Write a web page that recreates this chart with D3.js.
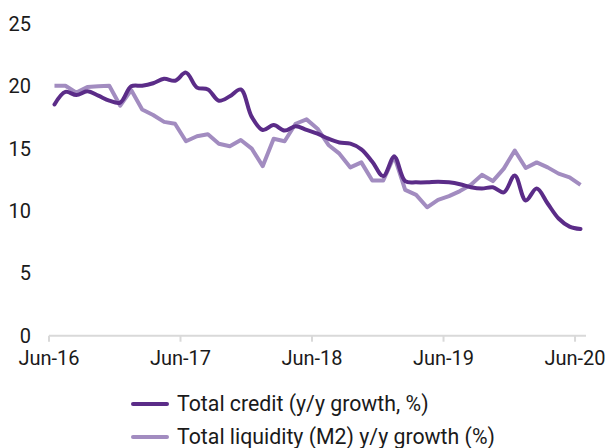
<!DOCTYPE html>
<html>
<head>
<meta charset="utf-8">
<script src="https://cdn.jsdelivr.net/npm/d3@7"></script>
<style>
  html, body { margin: 0; padding: 0; background: #fff; }
  svg { display: block; font-family: Roboto, "Noto Sans", sans-serif; }
</style>
</head>
<body>
<svg id="chart" width="605" height="448"></svg>
<script>
// Monthly observations, Jun-16 .. Jun-20
const months = d3.range(49).map(i => d3.timeMonth.offset(new Date(2016, 5, 1), i));

const creditGrowth = [
  18.55, 19.55, 19.3, 19.6, 19.25, 18.85, 18.7, 20.0, 20.05, 20.25, 20.6, 20.45,
  21.1, 19.9, 19.75, 18.85, 19.2, 19.75, 17.55, 16.5, 16.9, 16.45, 16.8, 16.5,
  16.2, 15.8, 15.5, 15.4, 14.95, 13.95, 12.8, 14.35, 12.4, 12.3, 12.3, 12.35,
  12.3, 12.15, 11.9, 11.8, 11.9, 11.5, 12.85, 10.85, 11.8, 10.6, 9.4, 8.75, 8.55
];

const liquidityGrowth = [
  20.05, 20.05, 19.5, 19.95, 20.0, 20.05, 18.45, 19.7, 18.15, 17.7, 17.15, 17.0,
  15.6, 16.0, 16.15, 15.4, 15.2, 15.7, 15.0, 13.6, 15.8, 15.6, 17.0, 17.35,
  16.6, 15.3, 14.6, 13.5, 13.9, 12.45, 12.45, 14.4, 11.7, 11.3, 10.3, 10.9,
  11.2, 11.6, 12.1, 12.9, 12.4, 13.4, 14.85, 13.45, 13.9, 13.5, 13.0, 12.7, 12.1
];

const yTicks = [0, 5, 10, 15, 20, 25];
const xTickLabels = ["Jun-16", "Jun-17", "Jun-18", "Jun-19", "Jun-20"];

const seriesNames = ["Total credit (y/y growth, %)", "Total liquidity (M2) y/y growth (%)"];
const seriesColors = ["#5b2c88", "#a28cc0"];

const svg = d3.select("#chart");

const plotLeft = 49, plotRight = 586, plotTop = 24, plotBottom = 335.7;

// Category-style time axis: one band per month, points at band centres
const x = d3.scaleBand()
  .domain(d3.range(months.length))
  .range([plotLeft, plotRight])
  .paddingInner(0).paddingOuter(0);

const y = d3.scaleLinear().domain([0, 25]).range([plotBottom, plotTop]);

// Y axis labels (no axis line)
const yAxis = d3.axisLeft(y).tickValues(yTicks).tickSize(0).tickPadding(0);
svg.append("g")
  .attr("transform", `translate(31,0)`)
  .call(yAxis)
  .call(g => g.select(".domain").remove())
  .call(g => g.selectAll("text")
    .attr("font-size", 20)
    .attr("font-family", "Roboto, sans-serif")
    .attr("fill", "#1a1a1a"));

// X axis: baseline with yearly ticks at the start of each June band
const tickIdx = xTickLabels.map((_, k) => k * 12);
const xAxisG = svg.append("g").attr("transform", `translate(0,${plotBottom})`);
xAxisG.append("line")
  .attr("x1", plotLeft).attr("x2", plotRight)
  .attr("stroke", "#d9d9d9").attr("stroke-width", 2);
xAxisG.selectAll("line.tick")
  .data(tickIdx)
  .join("line")
  .attr("class", "tick")
  .attr("x1", d => x(d)).attr("x2", d => x(d))
  .attr("y1", 0).attr("y2", 6)
  .attr("stroke", "#d9d9d9").attr("stroke-width", 2);
xAxisG.selectAll("text")
  .data(tickIdx)
  .join("text")
  .attr("x", d => x(d))
  .attr("y", 29)
  .attr("text-anchor", "middle")
  .attr("font-size", 20)
  .attr("fill", "#1a1a1a")
  .text((d, k) => xTickLabels[k]);

const cx = i => x(i) + x.bandwidth() / 2;

// Liquidity: straight segments
const lineStraight = d3.line().x((d, i) => cx(i)).y(d => y(d));
// Credit: smoothed
const lineSmooth = d3.line().x((d, i) => cx(i)).y(d => y(d)).curve(d3.curveCatmullRom.alpha(0.5));

svg.append("path")
  .datum(liquidityGrowth)
  .attr("d", lineStraight)
  .attr("fill", "none")
  .attr("stroke", seriesColors[1])
  .attr("stroke-width", 4)
  .attr("stroke-linejoin", "round");

svg.append("path")
  .datum(creditGrowth)
  .attr("d", lineSmooth)
  .attr("fill", "none")
  .attr("stroke", seriesColors[0])
  .attr("stroke-width", 4)
  .attr("stroke-linecap", "round")
  .attr("stroke-linejoin", "round");

// Legend
const legend = svg.append("g");
seriesNames.forEach((name, k) => {
  const ly = 404 + k * 33;
  legend.append("line")
    .attr("x1", 133).attr("x2", 167)
    .attr("y1", ly).attr("y2", ly)
    .attr("stroke", seriesColors[k])
    .attr("stroke-width", 4)
    .attr("stroke-linecap", "round");
  legend.append("text")
    .attr("x", 177).attr("y", ly)
    .attr("dy", "0.35em")
    .attr("font-size", 21.3)
    .attr("fill", "#1a1a1a")
    .text(name);
});
</script>
</body>
</html>
